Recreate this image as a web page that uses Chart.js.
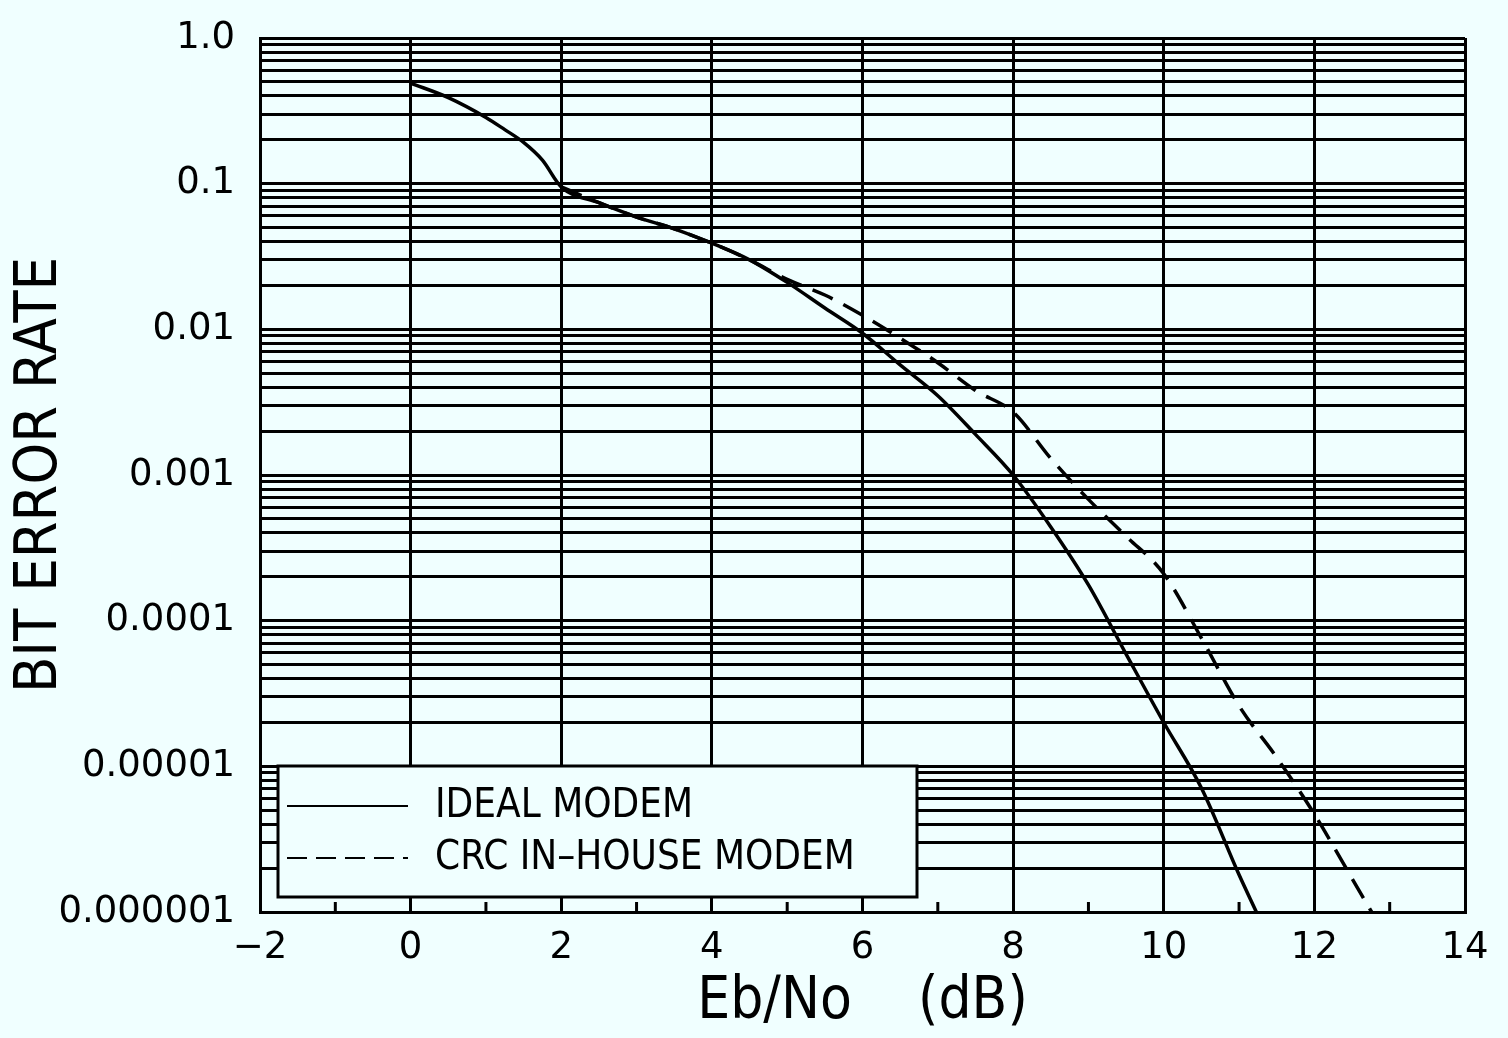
<!DOCTYPE html>
<html>
<head>
<meta charset="utf-8">
<title>Bit error rate vs Eb/No</title>
<script src="https://cdn.jsdelivr.net/npm/chart.js@4.4.1/dist/chart.umd.min.js"></script>
<style>
  html, body { margin: 0; padding: 0; background: #f0ffff; }
  #berChart { display: block; background: #f0ffff; }
</style>
</head>
<body>
<canvas id="berChart" width="1508" height="1038"></canvas>
<script>
// Eb/No (dB) and bit error rate for each modem
const idealEbNo = [0, 0.5, 1, 1.25, 1.5, 1.75, 2, 2.5, 3, 3.5, 4, 4.5, 5, 5.5, 6, 6.5, 7, 7.5, 8, 8.5, 9, 9.5, 10, 10.5, 11, 11.23];
const idealBer  = [0.49, 0.39, 0.285, 0.235, 0.192, 0.145, 0.095, 0.074, 0.059, 0.049, 0.039, 0.03, 0.021, 0.014, 0.0094, 0.0057, 0.0035, 0.0019, 0.001, 0.00044, 0.000176, 0.000059, 0.00002, 0.0000071, 0.0000018, 0.000001];
const crcEbNo = [2, 2.5, 3, 3.5, 4, 4.5, 5, 5.5, 6, 6.5, 7, 7.5, 8, 8.5, 9, 9.5, 10, 10.5, 11, 11.5, 12, 12.5, 12.76];
const crcBer  = [0.095, 0.074, 0.059, 0.049, 0.039, 0.03, 0.022, 0.0172, 0.0125, 0.0087, 0.0059, 0.0038, 0.0027, 0.0013, 0.00068, 0.00038, 0.00021, 0.000076, 0.000026, 0.0000115, 0.0000047, 0.0000017, 0.000001];

// axis ticks
const xTickValues = [-2, 0, 2, 4, 6, 8, 10, 12, 14];
const xTickLabels = ['\u22122', '0', '2', '4', '6', '8', '10', '12', '14'];
const xMinorTicks = [-1, 1, 3, 5, 7, 9, 11, 13];
const yDecades = [1e-6, 1e-5, 1e-4, 1e-3, 1e-2, 1e-1, 1];
const yTickLabels = ['0.000001', '0.00001', '0.0001', '0.001', '0.01', '0.1', '1.0'];
const yMinorSteps = [2, 3, 4, 5, 6, 7, 8, 9];

const BG = '#f0ffff';
const TICK_FONT = "'DejaVu Sans', sans-serif";
const LABEL_FONT = "'DejaVu Sans Condensed', 'DejaVu Sans', sans-serif";

// every horizontal rule: each decade plus 2..9 within it
const yGridValues = [];
yDecades.forEach((d, i) => {
    yGridValues.push(d);
    if (i < yDecades.length - 1) {
        yMinorSteps.forEach(m => yGridValues.push(+(m * d).toPrecision(6)));
    }
});

function toPoints(xs, ys) {
    return xs.map((x, i) => ({ x: x, y: ys[i] }));
}

function yLabel(value) {
    const idx = yDecades.findIndex(d => Math.abs(Math.log10(value) - Math.log10(d)) < 1e-6);
    return idx >= 0 ? yTickLabels[idx] : '';
}

// legend box inside the plot plus the small odd-value ticks on the x axis
const boxLegend = {
    id: 'boxLegend',
    afterDatasetsDraw(chart) {
        const { ctx, chartArea, scales } = chart;
        const left = chartArea.left + 18;
        const top = chartArea.bottom - 146;
        const width = 639;
        const height = 131;

        ctx.save();
        ctx.fillStyle = BG;
        ctx.fillRect(left, top, width, height);
        ctx.strokeStyle = '#000';
        ctx.lineWidth = 3;
        ctx.strokeRect(left, top, width, height);

        ctx.font = '40px ' + LABEL_FONT;
        ctx.fillStyle = '#000';
        ctx.textBaseline = 'middle';
        ctx.textAlign = 'left';
        chart.data.datasets.forEach((ds, i) => {
            const y = top + 40 + i * 52;
            ctx.beginPath();
            ctx.lineWidth = 2;
            ctx.setLineDash(ds.borderDash && ds.borderDash.length ? [20, 9] : []);
            ctx.moveTo(left + 9, y);
            ctx.lineTo(left + 130, y);
            ctx.stroke();
            ctx.setLineDash([]);
            ctx.fillText(ds.label, left + 157, y + 1);
        });

        // minor ticks pointing up from the bottom axis
        ctx.lineWidth = 3;
        xMinorTicks.forEach(v => {
            const px = scales.x.getPixelForValue(v);
            ctx.beginPath();
            ctx.moveTo(px, chartArea.bottom);
            ctx.lineTo(px, chartArea.bottom - 10);
            ctx.stroke();
        });
        ctx.restore();
    }
};

const chart = new Chart(document.getElementById('berChart'), {
    type: 'line',
    data: {
        datasets: [
            {
                label: 'IDEAL MODEM',
                data: toPoints(idealEbNo, idealBer),
                borderColor: '#000',
                borderWidth: 3.5,
                pointRadius: 0,
                cubicInterpolationMode: 'monotone',
                fill: false
            },
            {
                label: 'CRC IN\u2013HOUSE MODEM',
                data: toPoints(crcEbNo, crcBer),
                borderColor: '#000',
                borderWidth: 3.5,
                borderDash: [22, 12],
                pointRadius: 0,
                cubicInterpolationMode: 'monotone',
                fill: false
            }
        ]
    },
    options: {
        responsive: false,
        devicePixelRatio: 1,
        animation: false,
        layout: {
            padding: { left: 5, right: 43, top: 38, bottom: 0 }
        },
        plugins: {
            legend: { display: false },
            tooltip: { enabled: false }
        },
        scales: {
            x: {
                type: 'linear',
                min: -2,
                max: 14,
                afterBuildTicks: scale => {
                    scale.ticks = xTickValues.map(v => ({ value: v }));
                },
                afterFit: scale => { scale.height = 126; },
                ticks: {
                    autoSkip: false,
                    maxRotation: 0,
                    padding: 14,
                    color: '#000',
                    font: { family: TICK_FONT, size: 37 },
                    callback: value => xTickLabels[xTickValues.indexOf(value)]
                },
                grid: { color: '#000', lineWidth: 3, drawTicks: false },
                border: { color: '#000', width: 3 },
                title: {
                    display: true,
                    text: 'Eb/No    (dB)',
                    color: '#000',
                    font: { family: LABEL_FONT, size: 58 },
                    padding: { top: 0, bottom: 0 }
                }
            },
            y: {
                type: 'logarithmic',
                min: 1e-6,
                max: 1,
                afterBuildTicks: scale => {
                    scale.ticks = yGridValues.map(v => ({ value: v }));
                },
                afterFit: scale => {
                    scale.width = 255;
                    scale.paddingTop = 0;
                    scale.paddingBottom = 0;
                },
                ticks: {
                    autoSkip: false,
                    padding: 25,
                    color: '#000',
                    font: { family: TICK_FONT, size: 37 },
                    callback: value => yLabel(value)
                },
                grid: { color: '#000', lineWidth: 3, drawTicks: false },
                border: { color: '#000', width: 3 },
                title: {
                    display: true,
                    text: 'BIT ERROR RATE',
                    color: '#000',
                    font: { family: LABEL_FONT, size: 59 },
                    padding: { top: 0, bottom: 0 }
                }
            }
        }
    },
    plugins: [boxLegend]
});
</script>
</body>
</html>
